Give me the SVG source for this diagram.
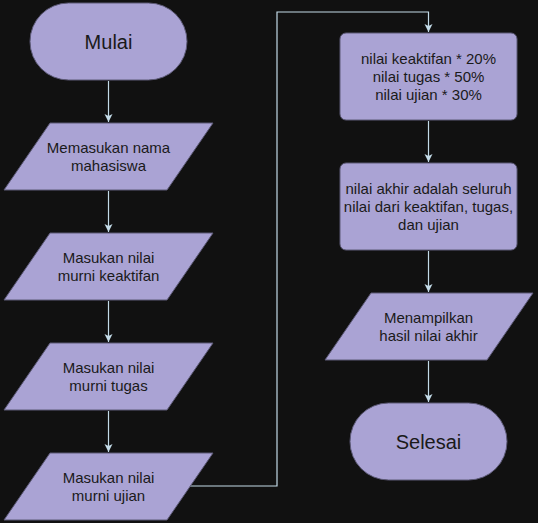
<svg xmlns="http://www.w3.org/2000/svg" width="538" height="523" viewBox="0 0 538 523">
  <defs>
    <marker id="arr" markerUnits="userSpaceOnUse" markerWidth="10" markerHeight="10" refX="9" refY="5" orient="auto">
      <path d="M1,1 L9,5 L1,9 L3,5 Z" fill="#c3dbe8"/>
    </marker>
    <style>
      .shape { fill: #aaa3d4; stroke: #5d5a77; stroke-width: 1; stroke-linejoin: round; }
      .t { font-family: "Liberation Sans", Arial, sans-serif; font-size: 15px; fill: #1a1a1a; text-anchor: middle; }
      .big { font-size: 20px; }
      .conn { fill: none; stroke: #c3dbe8; stroke-width: 1.2; marker-end: url(#arr); }
    </style>
  </defs>
  <rect width="538" height="523" fill="#111111"/>

  <g id="connectors">
    <path class="conn" d="M108.5,81 L108.5,122"/>
    <path class="conn" d="M108.5,191 L108.5,232"/>
    <path class="conn" d="M108.5,301 L108.5,342"/>
    <path class="conn" d="M108.5,411 L108.5,452"/>
    <path class="conn" d="M190,486 L277,486 L277,12 L428.5,12 L428.5,32"/>
    <path class="conn" d="M428.5,121 L428.5,162"/>
    <path class="conn" d="M428.5,251 L428.5,292"/>
    <path class="conn" d="M428.5,361 L428.5,402"/>
  </g>

  <g id="mulai">
    <rect class="shape" x="30" y="3" width="157" height="77" rx="38.5"/>
    <text class="t big" x="108.5" y="48.5">Mulai</text>
  </g>

  <g id="nama">
    <polygon class="shape" points="50,123 213,123 167,190 4,190"/>
    <text class="t" x="108.5" y="153">Memasukan nama</text>
    <text class="t" x="108.5" y="171">mahasiswa</text>
  </g>

  <g id="keaktifan">
    <polygon class="shape" points="50,233 213,233 167,300 4,300"/>
    <text class="t" x="108.5" y="263">Masukan nilai</text>
    <text class="t" x="108.5" y="281">murni keaktifan</text>
  </g>

  <g id="tugas">
    <polygon class="shape" points="50,343 213,343 167,410 4,410"/>
    <text class="t" x="108.5" y="373">Masukan nilai</text>
    <text class="t" x="108.5" y="391">murni tugas</text>
  </g>

  <g id="ujian">
    <polygon class="shape" points="50,453 213,453 167,520 4,520"/>
    <text class="t" x="108.5" y="483">Masukan nilai</text>
    <text class="t" x="108.5" y="501">murni ujian</text>
  </g>

  <g id="bobot">
    <rect class="shape" x="340" y="33" width="177" height="87" rx="6"/>
    <text class="t" x="428.5" y="64">nilai keaktifan * 20%</text>
    <text class="t" x="428.5" y="82">nilai tugas * 50%</text>
    <text class="t" x="428.5" y="100">nilai ujian * 30%</text>
  </g>

  <g id="akhir">
    <rect class="shape" x="340" y="163" width="177" height="87" rx="6"/>
    <text class="t" x="428.5" y="194">nilai akhir adalah seluruh</text>
    <text class="t" x="428.5" y="212">nilai dari keaktifan, tugas,</text>
    <text class="t" x="428.5" y="230">dan ujian</text>
  </g>

  <g id="tampil">
    <polygon class="shape" points="371,293 533,293 487,360 325,360"/>
    <text class="t" x="428.5" y="323">Menampilkan</text>
    <text class="t" x="428.5" y="341">hasil nilai akhir</text>
  </g>

  <g id="selesai">
    <rect class="shape" x="350" y="403" width="157" height="77" rx="38.5"/>
    <text class="t big" x="428.5" y="448.5">Selesai</text>
  </g>
</svg>
